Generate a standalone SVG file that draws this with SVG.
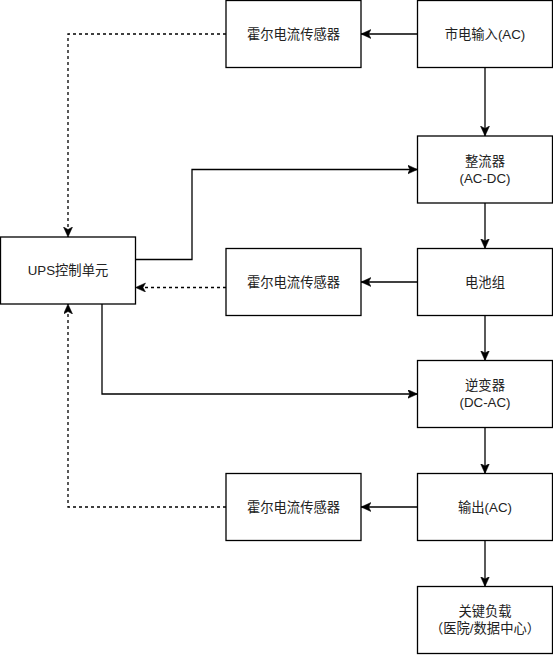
<svg xmlns="http://www.w3.org/2000/svg" width="553" height="655" viewBox="0 0 553 655">
<defs>
<style>
.box{fill:#ffffff;stroke:#000000;stroke-width:1.3}
.t{font-family:"Liberation Sans","Noto Sans CJK SC",sans-serif;font-size:13.3px;fill:#222222;text-anchor:middle}
.c{fill:none;stroke:#000000;stroke-width:1.3}
.d{stroke-dasharray:3 3}
</style>
<marker id="arr" markerUnits="userSpaceOnUse" markerWidth="12" markerHeight="10" refX="10" refY="4.5" orient="auto">
<path d="M0,0 L10,4.5 L0,9 L2.5,4.5 Z" fill="#000000" stroke="#000000" stroke-width="0.5"/>
</marker>
</defs>
<rect width="553" height="655" fill="#ffffff"/>
<g id="connectors">
<path class="c" d="M417.5,34 L361,34" marker-end="url(#arr)"/>
<path class="c d" d="M226,34 L68,34 L68,237" marker-end="url(#arr)"/>
<path class="c" d="M485,67.5 L485,136" marker-end="url(#arr)"/>
<path class="c" d="M135.5,259.5 L192,259.5 L192,169.5 L417.5,169.5" marker-end="url(#arr)"/>
<path class="c" d="M485,203 L485,248.5" marker-end="url(#arr)"/>
<path class="c" d="M417.5,282 L361,282" marker-end="url(#arr)"/>
<path class="c d" d="M226,287.5 L135.5,287.5" marker-end="url(#arr)"/>
<path class="c" d="M102,304 L102,394 L417.5,394" marker-end="url(#arr)"/>
<path class="c" d="M485,315.5 L485,360.5" marker-end="url(#arr)"/>
<path class="c" d="M485,427.5 L485,473.5" marker-end="url(#arr)"/>
<path class="c" d="M417.5,507 L361,507" marker-end="url(#arr)"/>
<path class="c d" d="M226,507 L68,507 L68,304" marker-end="url(#arr)"/>
<path class="c" d="M485,540.5 L485,586.5" marker-end="url(#arr)"/>
</g>
<g id="mains"><rect class="box" x="417.5" y="0.5" width="135" height="67"/><text class="t" x="485" y="38.7">市电输入(AC)</text></g>
<g id="sensor1"><rect class="box" x="226" y="0.5" width="135" height="67"/><text class="t" x="293.5" y="38.7">霍尔电流传感器</text></g>
<g id="rectifier"><rect class="box" x="417.5" y="136" width="135" height="67"/><text class="t" x="485" y="165.5">整流器</text><text class="t" x="485" y="182.5">(AC-DC)</text></g>
<g id="ups"><rect class="box" x="0.5" y="237" width="135" height="67"/><text class="t" x="68" y="275">UPS控制单元</text></g>
<g id="sensor2"><rect class="box" x="226" y="248.5" width="135" height="67"/><text class="t" x="293.5" y="286.5">霍尔电流传感器</text></g>
<g id="battery"><rect class="box" x="417.5" y="248.5" width="135" height="67"/><text class="t" x="485" y="286.5">电池组</text></g>
<g id="inverter"><rect class="box" x="417.5" y="360.5" width="135" height="67"/><text class="t" x="485" y="389.5">逆变器</text><text class="t" x="485" y="406.5">(DC-AC)</text></g>
<g id="sensor3"><rect class="box" x="226" y="473.5" width="135" height="67"/><text class="t" x="293.5" y="511.5">霍尔电流传感器</text></g>
<g id="output"><rect class="box" x="417.5" y="473.5" width="135" height="67"/><text class="t" x="485" y="511.5">输出(AC)</text></g>
<g id="load"><rect class="box" x="417.5" y="586.5" width="135" height="67"/><text class="t" x="485" y="615.5">关键负载</text><text class="t" x="485" y="632.5">（医院/数据中心）</text></g>
</svg>
